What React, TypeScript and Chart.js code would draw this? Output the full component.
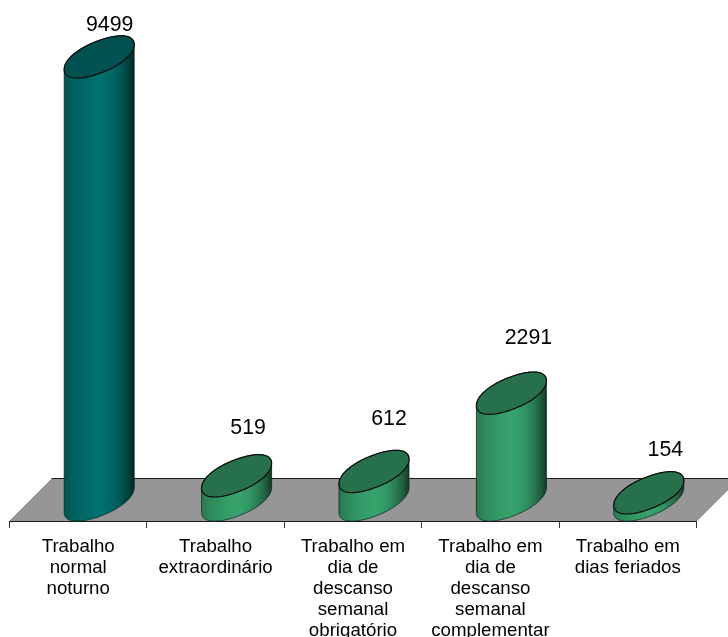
import React, { useEffect, useRef } from "react";
import { Chart, registerables } from "chart.js";

Chart.register(...registerables);

const categories: string[][] = [
  ["Trabalho", "normal", "noturno"],
  ["Trabalho", "extraordinário"],
  ["Trabalho em", "dia de", "descanso", "semanal", "obrigatório"],
  ["Trabalho em", "dia de", "descanso", "semanal", "complementar"],
  ["Trabalho em", "dias feriados"],
];
const values: number[] = [9499, 519, 612, 2291, 154];
const bodyColors: string[] = ["#006a68", "#339966", "#339966", "#339966", "#339966"];
const labelNudgeX: number[] = [10.5, 11.5, 15, 17, 16.5];
const labelTopGap: number[] = [10.5, 26.5, 31.5, 34.5, 21.5];

const FONT = '"Liberation Sans", Arial, sans-serif';
const DEPTH = 42;
const RX = 35;
const RHO = 0.6;
const RHO_C = Math.sqrt(1 - RHO * RHO);
const P = 0.93;
const spow = (v: number) => Math.sign(v) * Math.pow(Math.abs(v), P);
const PEAK = (RHO + RHO_C) * Math.pow(Math.SQRT1_2, P);
const RY = DEPTH / 2 / PEAK;

function shade(hex: string, f: number): string {
  const n = parseInt(hex.slice(1), 16);
  const c = [(n >> 16) & 255, (n >> 8) & 255, n & 255].map((v) => Math.min(255, Math.round(v * f)));
  return `rgb(${c[0]},${c[1]},${c[2]})`;
}

function ellipsePoint(cx: number, cy: number, t: number): [number, number] {
  const c = spow(Math.cos(t));
  const s = spow(Math.sin(t));
  return [cx + RX * c, cy - RY * (RHO * c + RHO_C * s)];
}

function arc(ctx: CanvasRenderingContext2D, cx: number, cy: number, from: number, to: number, move: boolean) {
  const steps = 160;
  for (let i = 0; i <= steps; i++) {
    const t = from + ((to - from) * i) / steps;
    const [x, y] = ellipsePoint(cx, cy, t);
    if (i === 0 && move) ctx.moveTo(x, y);
    else ctx.lineTo(x, y);
  }
}

const cylinderPlugin = {
  id: "cylinder",
  beforeDraw(chart: any) {
    const { ctx, chartArea } = chart;
    const { left, right, bottom } = chartArea;
    ctx.save();
    ctx.beginPath();
    ctx.moveTo(left, bottom);
    ctx.lineTo(left + DEPTH, bottom - DEPTH);
    ctx.lineTo(right + DEPTH, bottom - DEPTH);
    ctx.lineTo(right, bottom);
    ctx.closePath();
    ctx.fillStyle = "#969696";
    ctx.fill();
    ctx.lineWidth = 1;
    ctx.strokeStyle = "#808080";
    ctx.beginPath();
    ctx.moveTo(left + 0.5, bottom);
    ctx.lineTo(left + DEPTH + 0.5, bottom - DEPTH);
    ctx.moveTo(right, bottom);
    ctx.lineTo(right + DEPTH, bottom - DEPTH);
    ctx.stroke();
    ctx.strokeStyle = "#1a1a1a";
    ctx.beginPath();
    ctx.moveTo(left + DEPTH, bottom - DEPTH - 0.5);
    ctx.lineTo(right + DEPTH, bottom - DEPTH - 0.5);
    ctx.stroke();
    ctx.restore();
  },
  beforeDatasetDraw(chart: any, args: any) {
    const { ctx } = chart;
    const meta = args.meta;
    ctx.save();
    meta.data.forEach((bar: any, i: number) => {
      const color: string = bar.options.backgroundColor;
      const cx = bar.x + DEPTH / 2;
      const topY = bar.y;
      const baseY = bar.base;

      const grad = ctx.createLinearGradient(cx - RX, 0, cx + RX, 0);
      grad.addColorStop(0, shade(color, 0.8));
      grad.addColorStop(0.1, shade(color, 0.88));
      grad.addColorStop(0.3, shade(color, 1.0));
      grad.addColorStop(0.5, shade(color, 1.07));
      grad.addColorStop(0.68, shade(color, 0.98));
      grad.addColorStop(0.82, shade(color, 0.8));
      grad.addColorStop(0.92, shade(color, 0.6));
      grad.addColorStop(1, shade(color, 0.38));

      ctx.beginPath();
      arc(ctx, cx, baseY, Math.PI, 2 * Math.PI, true);
      arc(ctx, cx, topY, 0, Math.PI, false);
      ctx.closePath();
      ctx.fillStyle = grad;
      ctx.fill();
      ctx.lineWidth = 1;
      ctx.strokeStyle = "rgba(10,30,25,0.75)";
      ctx.stroke();

      ctx.beginPath();
      arc(ctx, cx, topY, 0, 2 * Math.PI, true);
      ctx.closePath();
      ctx.fillStyle = shade(color, i === 0 ? 0.76 : 0.74);
      ctx.fill();
      ctx.lineWidth = 1.2;
      ctx.strokeStyle = "#0a0a0a";
      ctx.stroke();

      ctx.fillStyle = "#000000";
      ctx.font = `21.3px ${FONT}`;
      ctx.textAlign = "center";
      ctx.textBaseline = "middle";
      ctx.fillText(String(values[i]), cx + labelNudgeX[i], topY - DEPTH / 2 - labelTopGap[i]);
    });
    ctx.restore();
    return false;
  },
};

export default function App() {
  const ref = useRef<HTMLCanvasElement | null>(null);
  useEffect(() => {
    if (!ref.current) return;
    const chart = new Chart(ref.current, {
      type: "bar",
      data: {
        labels: categories as any,
        datasets: [
          {
            data: values,
            backgroundColor: bodyColors,
            barPercentage: 0.51,
            categoryPercentage: 1,
          },
        ],
      },
      options: {
        responsive: false,
        animation: false,
        layout: { padding: { left: 9.5, right: 31.5, top: 33.6, bottom: 0 } },
        plugins: { legend: { display: false }, tooltip: { enabled: false } },
        scales: {
          x: {
            offset: true,
            afterFit(scale: any) {
              scale.height = 116;
            },
            border: { display: true, color: "#1a1a1a", width: 1 },
            grid: {
              offset: true,
              drawOnChartArea: false,
              drawTicks: true,
              tickLength: 7,
              color: "#333333",
            },
            ticks: {
              autoSkip: false,
              maxRotation: 0,
              minRotation: 0,
              padding: 7.8,
              color: "#000000",
              font: { family: FONT, size: 18.7, lineHeight: 1.135 },
            },
          },
          y: { display: false, min: -450, max: 10000 },
        },
      },
      plugins: [cylinderPlugin],
    } as any);
    return () => chart.destroy();
  }, []);
  return (
    <div style={{ position: "absolute", left: 0, top: 0, width: 728, height: 637, overflow: "hidden", background: "#fff" }}>
      <canvas ref={ref} width={728} height={637} style={{ display: "block" }} />
    </div>
  );
}
